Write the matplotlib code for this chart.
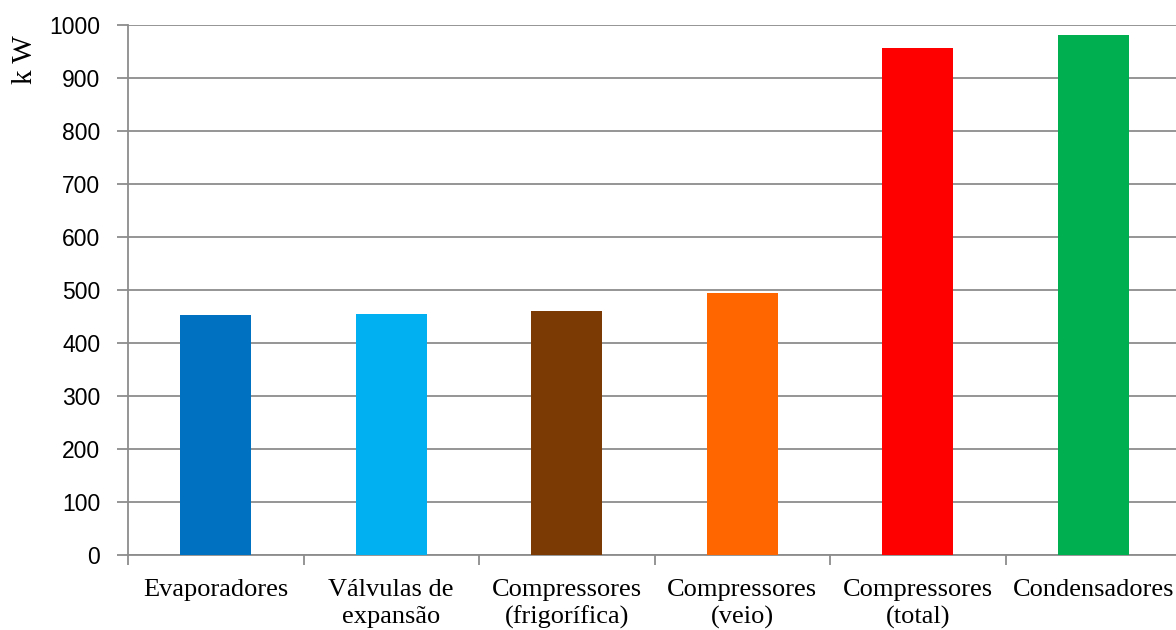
import matplotlib
matplotlib.use("Agg")
import matplotlib.pyplot as plt
import numpy as np

categories = ["Evaporadores", "Válvulas de\nexpansão", "Compressores\n(frigorífica)",
              "Compressores\n(veio)", "Compressores\n(total)", "Condensadores"]
values = [453, 455, 460, 494, 956, 981]
colors = ["#0070C0", "#00B0F0", "#7B3A04", "#FF6600", "#FF0000", "#00B050"]
yticks = [0, 100, 200, 300, 400, 500, 600, 700, 800, 900, 1000]

W, H = 1176, 630
fig = plt.figure(figsize=(W / 100, H / 100), dpi=100)
ax = fig.add_axes([128 / W, 1 - 555 / H, 1053 / W, 530 / H])

x = np.arange(len(categories))
ax.bar(x, values, width=0.405, color=colors, zorder=3)

grid_c = "#8C8C8C"
ax.set_xlim(-0.5, len(categories) - 0.5)
ax.set_ylim(0, 1000)
ax.set_yticks(yticks)
ax.set_yticklabels([str(v) for v in yticks], family="Liberation Sans", fontsize=16.5)
ax.yaxis.grid(True, color=grid_c, linewidth=1.3, zorder=0)
ax.set_axisbelow(True)

ax.set_xticks(x)
ax.set_xticklabels(categories, family="Liberation Serif", fontsize=19, linespacing=1.3)
ax.set_xticks(np.arange(len(categories) + 1) - 0.5, minor=True)
ax.tick_params(axis="x", which="major", length=0, pad=17)
ax.tick_params(axis="x", which="minor", length=7, width=1.3, color=grid_c)
ax.tick_params(axis="y", length=8, width=1.3, color=grid_c, pad=12)

for s in ["top", "right"]:
    ax.spines[s].set_visible(False)
for s in ["left", "bottom"]:
    ax.spines[s].set_color(grid_c)
    ax.spines[s].set_linewidth(1.3)

fig.text(25 / W, 1 - 60 / H, "k W", rotation=90, ha="center", va="center",
         family="Liberation Serif", fontsize=21)

fig.savefig("out.png", dpi=100)
